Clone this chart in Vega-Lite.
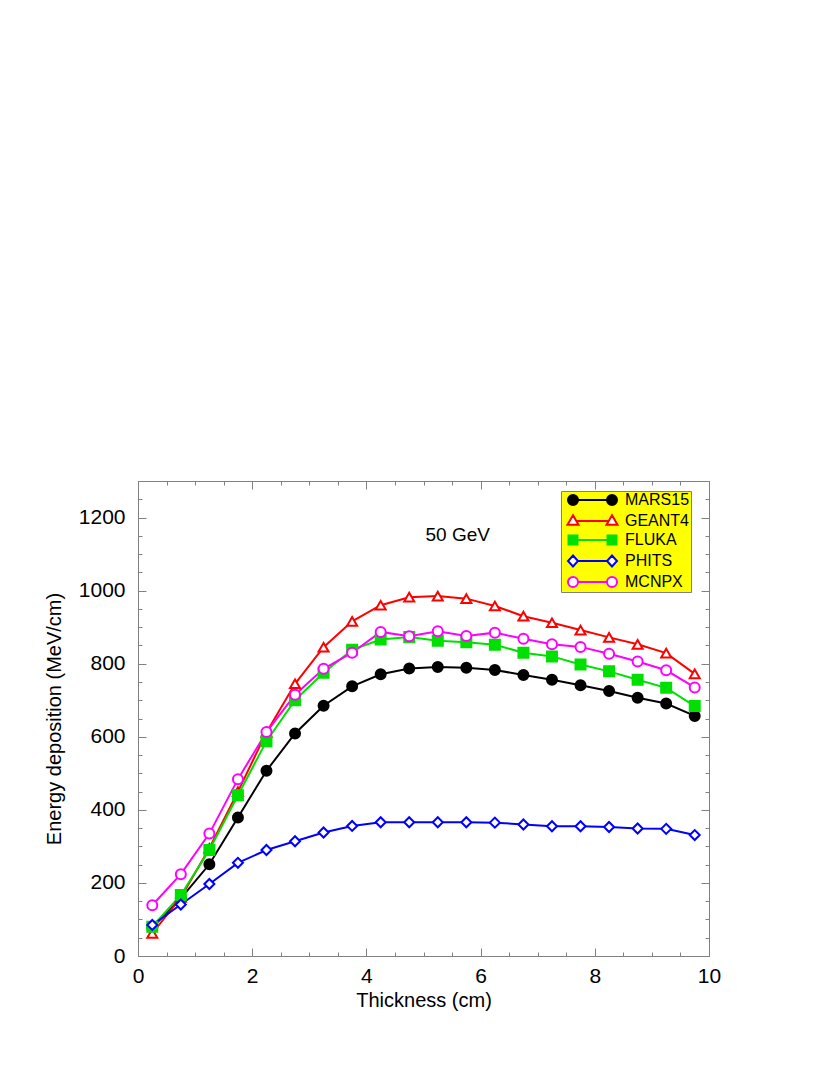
{
 "$schema": "https://vega.github.io/schema/vega-lite/v6.json",
 "width": 571, "height": 475,
 "autosize": "none",
 "padding": {"left": 138, "top": 481, "right": 121, "bottom": 119},
 "background": "white",
 "config": {
  "font": "Liberation Sans",
  "view": {"stroke": "#808080", "strokeWidth": 1},
  "axis": {"domain": false, "grid": false, "labelFont": "Liberation Sans", "labelFontSize": 21, "labelColor": "black", "titleFont": "Liberation Sans", "titleFontSize": 20, "titleFontWeight": "normal", "titleColor": "black", "tickColor": "#808080", "tickWidth": 1, "labelOverlap": false, "labelFlush": false},
  "legend": {"orient": "none", "legendX": 423, "legendY": 10, "fillColor": "#ffff00", "strokeColor": "#808080", "padding": 1, "labelFont": "Liberation Sans", "labelFontSize": 16, "labelColor": "black", "labelOffset": 47, "symbolSize": 100, "symbolStrokeWidth": 2, "rowPadding": 2}
 },
 "data": {"values": [
  {"x":0.25,"model":"MARS15","y":78},{"x":0.75,"model":"MARS15","y":158},{"x":1.25,"model":"MARS15","y":251},{"x":1.75,"model":"MARS15","y":379},{"x":2.25,"model":"MARS15","y":507},{"x":2.75,"model":"MARS15","y":609},{"x":3.25,"model":"MARS15","y":685},{"x":3.75,"model":"MARS15","y":738},{"x":4.25,"model":"MARS15","y":771},{"x":4.75,"model":"MARS15","y":787},{"x":5.25,"model":"MARS15","y":791},{"x":5.75,"model":"MARS15","y":789},{"x":6.25,"model":"MARS15","y":783},{"x":6.75,"model":"MARS15","y":769},{"x":7.25,"model":"MARS15","y":756},{"x":7.75,"model":"MARS15","y":741},{"x":8.25,"model":"MARS15","y":725},{"x":8.75,"model":"MARS15","y":707},{"x":9.25,"model":"MARS15","y":691},{"x":9.75,"model":"MARS15","y":657},
  {"x":0.25,"model":"GEANT4","y":62},{"x":0.75,"model":"GEANT4","y":160},{"x":1.25,"model":"GEANT4","y":295},{"x":1.75,"model":"GEANT4","y":450},{"x":2.25,"model":"GEANT4","y":612},{"x":2.75,"model":"GEANT4","y":745},{"x":3.25,"model":"GEANT4","y":845},{"x":3.75,"model":"GEANT4","y":916},{"x":4.25,"model":"GEANT4","y":960},{"x":4.75,"model":"GEANT4","y":982},{"x":5.25,"model":"GEANT4","y":985},{"x":5.75,"model":"GEANT4","y":978},{"x":6.25,"model":"GEANT4","y":958},{"x":6.75,"model":"GEANT4","y":930},{"x":7.25,"model":"GEANT4","y":912},{"x":7.75,"model":"GEANT4","y":892},{"x":8.25,"model":"GEANT4","y":872},{"x":8.75,"model":"GEANT4","y":853},{"x":9.25,"model":"GEANT4","y":829},{"x":9.75,"model":"GEANT4","y":772},
  {"x":0.25,"model":"FLUKA","y":80},{"x":0.75,"model":"FLUKA","y":167},{"x":1.25,"model":"FLUKA","y":290},{"x":1.75,"model":"FLUKA","y":440},{"x":2.25,"model":"FLUKA","y":588},{"x":2.75,"model":"FLUKA","y":700},{"x":3.25,"model":"FLUKA","y":775},{"x":3.75,"model":"FLUKA","y":838},{"x":4.25,"model":"FLUKA","y":866},{"x":4.75,"model":"FLUKA","y":873},{"x":5.25,"model":"FLUKA","y":863},{"x":5.75,"model":"FLUKA","y":859},{"x":6.25,"model":"FLUKA","y":852},{"x":6.75,"model":"FLUKA","y":830},{"x":7.25,"model":"FLUKA","y":820},{"x":7.75,"model":"FLUKA","y":798},{"x":8.25,"model":"FLUKA","y":779},{"x":8.75,"model":"FLUKA","y":756},{"x":9.25,"model":"FLUKA","y":734},{"x":9.75,"model":"FLUKA","y":684},
  {"x":0.25,"model":"PHITS","y":85},{"x":0.75,"model":"PHITS","y":141},{"x":1.25,"model":"PHITS","y":197},{"x":1.75,"model":"PHITS","y":255},{"x":2.25,"model":"PHITS","y":290},{"x":2.75,"model":"PHITS","y":314},{"x":3.25,"model":"PHITS","y":338},{"x":3.75,"model":"PHITS","y":356},{"x":4.25,"model":"PHITS","y":366},{"x":4.75,"model":"PHITS","y":366},{"x":5.25,"model":"PHITS","y":366},{"x":5.75,"model":"PHITS","y":366},{"x":6.25,"model":"PHITS","y":365},{"x":6.75,"model":"PHITS","y":360},{"x":7.25,"model":"PHITS","y":355},{"x":7.75,"model":"PHITS","y":355},{"x":8.25,"model":"PHITS","y":353},{"x":8.75,"model":"PHITS","y":349},{"x":9.25,"model":"PHITS","y":348},{"x":9.75,"model":"PHITS","y":331},
  {"x":0.25,"model":"MCNPX","y":139},{"x":0.75,"model":"MCNPX","y":224},{"x":1.25,"model":"MCNPX","y":335},{"x":1.75,"model":"MCNPX","y":484},{"x":2.25,"model":"MCNPX","y":613},{"x":2.75,"model":"MCNPX","y":715},{"x":3.25,"model":"MCNPX","y":786},{"x":3.75,"model":"MCNPX","y":830},{"x":4.25,"model":"MCNPX","y":887},{"x":4.75,"model":"MCNPX","y":875},{"x":5.25,"model":"MCNPX","y":889},{"x":5.75,"model":"MCNPX","y":876},{"x":6.25,"model":"MCNPX","y":885},{"x":6.75,"model":"MCNPX","y":868},{"x":7.25,"model":"MCNPX","y":853},{"x":7.75,"model":"MCNPX","y":846},{"x":8.25,"model":"MCNPX","y":827},{"x":8.75,"model":"MCNPX","y":806},{"x":9.25,"model":"MCNPX","y":782},{"x":9.75,"model":"MCNPX","y":735}
 ]},
 "layer": [
  {
   "mark": {"type": "line", "strokeWidth": 2},
   "encoding": {
    "x": {"field": "x", "type": "quantitative", "scale": {"domain": [0, 10], "nice": false, "zero": false},
     "axis": {"orient": "bottom", "values": [0,0.5,1,1.5,2,2.5,3,3.5,4,4.5,5,5.5,6,6.5,7,7.5,8,8.5,9,9.5,10], "labelExpr": "datum.value % 2 === 0 ? format(datum.value, 'd') : ''", "tickSize": {"condition": {"test": "datum.value % 2 === 0", "value": -8}, "value": -4}, "labelPadding": 17, "title": "Thickness (cm)", "titlePadding": 0}},
    "y": {"field": "y", "type": "quantitative", "scale": {"domain": [0, 1300], "nice": false},
     "axis": {"orient": "left", "values": [0,50,100,150,200,250,300,350,400,450,500,550,600,650,700,750,800,850,900,950,1000,1050,1100,1150,1200,1250,1300], "labelExpr": "datum.value % 200 === 0 ? format(datum.value, 'd') : ''", "tickSize": {"condition": {"test": "datum.value % 200 === 0", "value": -8}, "value": -4}, "labelPadding": 21, "title": "Energy deposition (MeV/cm)", "titlePadding": 14}},
    "color": {"field": "model", "type": "nominal", "scale": {"domain": ["MARS15","GEANT4","FLUKA","PHITS","MCNPX"], "range": ["#000000","#ff0000","#00e000","#0000ff","#ff00ff"]}, "legend": null}
   }
  },
  {
   "mark": {"type": "point", "filled": true, "strokeWidth": 2, "size": 100, "opacity": 1},
   "encoding": {
    "x": {"field": "x", "type": "quantitative",
     "axis": {"orient": "top", "values": [0,0.5,1,1.5,2,2.5,3,3.5,4,4.5,5,5.5,6,6.5,7,7.5,8,8.5,9,9.5,10], "labels": false, "title": null, "tickSize": {"condition": {"test": "datum.value % 2 === 0", "value": -8}, "value": -4}}},
    "y": {"field": "y", "type": "quantitative",
     "axis": {"orient": "right", "values": [0,50,100,150,200,250,300,350,400,450,500,550,600,650,700,750,800,850,900,950,1000,1050,1100,1150,1200,1250,1300], "labels": false, "title": null, "tickSize": {"condition": {"test": "datum.value % 200 === 0", "value": -8}, "value": -4}}},
    "shape": {"field": "model", "type": "nominal", "scale": {"domain": ["MARS15","GEANT4","FLUKA","PHITS","MCNPX"], "range": ["circle","triangle-up","square","diamond","circle"]}, "legend": null},
    "stroke": {"field": "model", "type": "nominal", "scale": {"domain": ["MARS15","GEANT4","FLUKA","PHITS","MCNPX"], "range": ["#000000","#ff0000","#00e000","#0000ff","#ff00ff"]}, "legend": null},
    "fill": {"field": "model", "type": "nominal", "scale": {"domain": ["MARS15","GEANT4","FLUKA","PHITS","MCNPX"], "range": ["#000000","#ffffff","#00e000","#ffffff","#ffffff"]}, "legend": null}
   }
  },
  {
   "transform": [{"filter": "false"}],
   "mark": {"type": "point", "filled": true, "strokeWidth": 2, "size": 100, "opacity": 1},
   "encoding": {
    "x": {"field": "x", "type": "quantitative", "axis": null},
    "y": {"field": "y", "type": "quantitative", "axis": null},
    "shape": {"field": "model", "type": "nominal", "scale": {"domain": ["MARS15","GEANT4","FLUKA","PHITS","MCNPX"], "range": [
      "M1.6,0L7.4,0M-0.4,0A1,1,0,1,0,1.6,0A1,1,0,1,0,-0.4,0ZM7.4,0A1,1,0,1,0,9.4,0A1,1,0,1,0,7.4,0Z",
      "M1.3,0L7.7,0M0.6,-1.15L1.7,0.75L-0.5,0.75ZM8.4,-1.15L9.5,0.75L7.3,0.75Z",
      "M1.5,0L7.5,0M-0.3,-0.9L1.5,-0.9L1.5,0.9L-0.3,0.9ZM7.5,-0.9L9.3,-0.9L9.3,0.9L7.5,0.9Z",
      "M1.6,0L7.4,0M0.6,-1.1L1.6,0L0.6,1.1L-0.4,0ZM8.4,-1.1L9.4,0L8.4,1.1L7.4,0Z",
      "M1.6,0L7.4,0M-0.4,0A1,1,0,1,0,1.6,0A1,1,0,1,0,-0.4,0ZM7.4,0A1,1,0,1,0,9.4,0A1,1,0,1,0,7.4,0Z"
     ]}, "legend": {"title": null, "labelExpr": "datum.label + '\u00a0\u00a0'"}},
    "stroke": {"field": "model", "type": "nominal", "scale": {"domain": ["MARS15","GEANT4","FLUKA","PHITS","MCNPX"], "range": ["#000000","#ff0000","#00e000","#0000ff","#ff00ff"]}, "legend": {"title": null, "labelExpr": "datum.label + '\u00a0\u00a0'"}},
    "fill": {"field": "model", "type": "nominal", "scale": {"domain": ["MARS15","GEANT4","FLUKA","PHITS","MCNPX"], "range": ["#000000","#ffffff","#00e000","#ffffff","#ffffff"]}, "legend": {"title": null, "labelExpr": "datum.label + '\u00a0\u00a0'"}}
   }
  },
  {
   "data": {"values": [{"label": "50 GeV"}]},
   "mark": {"type": "text", "fontSize": 19, "font": "Liberation Sans", "align": "center", "baseline": "middle", "color": "black"},
   "encoding": {
    "x": {"datum": 5.6, "type": "quantitative", "axis": null},
    "y": {"datum": 1152, "type": "quantitative", "axis": null},
    "text": {"field": "label", "type": "nominal"}
   }
  }
 ],
 "resolve": {"scale": {"shape": "independent", "stroke": "independent", "fill": "independent", "color": "independent"}, "axis": {"x": "independent", "y": "independent"}}
}
